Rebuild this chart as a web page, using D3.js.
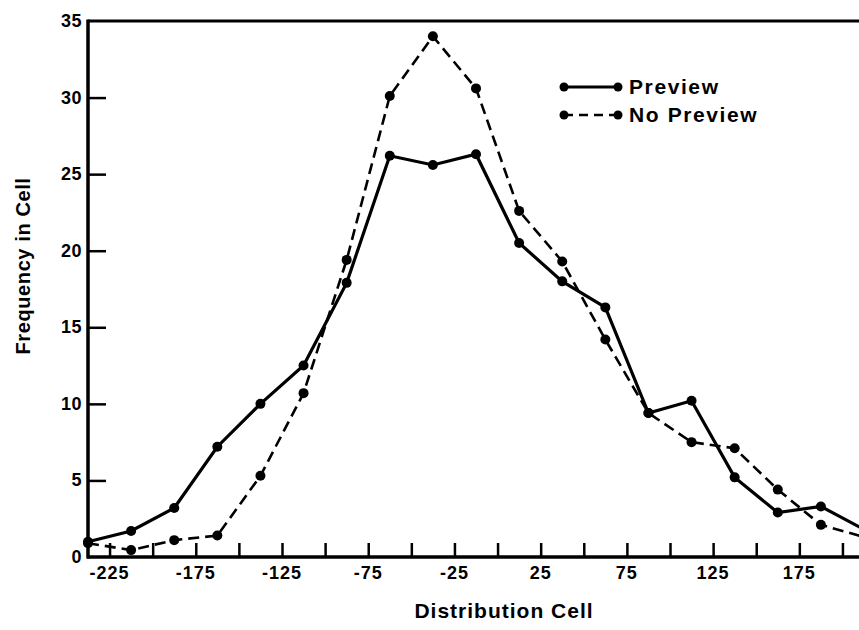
<!DOCTYPE html>
<html>
<head>
<meta charset="utf-8">
<script src="https://cdn.jsdelivr.net/npm/d3@7"></script>
<style>
html,body{margin:0;padding:0;background:#fff;}
svg{display:block;}
text{font-family:"Liberation Sans",Arial,sans-serif;font-weight:bold;fill:#000;}
</style>
</head>
<body>
<svg id="chart" width="859" height="630"></svg>
<script>
// Data
const cells = [-237.5,-212.5,-187.5,-162.5,-137.5,-112.5,-87.5,-62.5,-37.5,-12.5,12.5,37.5,62.5,87.5,112.5,137.5,162.5,187.5,212.5];
const preview = [1.0,1.7,3.2,7.2,10.0,12.5,17.9,26.2,25.6,26.3,20.5,18.0,16.3,9.4,10.2,5.2,2.9,3.3,1.8];
const noPreview = [0.9,0.45,1.1,1.4,5.3,10.7,19.4,30.1,34.0,30.6,22.6,19.3,14.2,9.4,7.5,7.1,4.4,2.1,1.3];
const xTickValues = [-225,-200,-175,-150,-125,-100,-75,-50,-25,0,25,50,75,100,125,150,175,200];
const xTickLabels = [-225,-175,-125,-75,-25,25,75,125,175];
const yTickValues = [5,10,15,20,25,30];
const yTickLabels = [0,5,10,15,20,25,30,35];
const seriesNames = ["Preview","No Preview"];

const svg = d3.select("#chart");
const x = d3.scaleLinear().domain([-237.5, 212.5]).range([88, 864]);
const y = d3.scaleLinear().domain([0, 35]).range([557, 21]);

// frame: top line
svg.append("line").attr("x1", x(-237.5)).attr("x2", 859).attr("y1", y(35)).attr("y2", y(35))
  .attr("stroke","#000").attr("stroke-width",3);

// x axis
const xAxis = d3.axisBottom(x).tickValues(xTickValues).tickSize(-14).tickFormat("");
const gx = svg.append("g").attr("transform", `translate(0,${y(0)})`).call(xAxis);
gx.select(".domain").remove();
gx.selectAll(".tick line").attr("stroke","#000").attr("stroke-width",2.5);
svg.append("line").attr("x1", x(-237.5)-1).attr("x2", 859).attr("y1", y(0)).attr("y2", y(0))
  .attr("stroke","#000").attr("stroke-width",3.5);
svg.append("g").selectAll("text").data(xTickLabels).join("text")
  .attr("x", d => x(d)).attr("y", y(0) + 22)
  .attr("text-anchor","middle").attr("font-size",18).attr("letter-spacing",1)
  .text(d => d);

// y axis
const yAxis = d3.axisLeft(y).tickValues(yTickValues).tickSize(-18).tickFormat("");
const gy = svg.append("g").attr("transform", `translate(${x(-237.5)},0)`).call(yAxis);
gy.select(".domain").remove();
gy.selectAll(".tick line").attr("stroke","#000").attr("stroke-width",2.5);
svg.append("line").attr("x1", x(-237.5)).attr("x2", x(-237.5)).attr("y1", y(35)-1.5).attr("y2", y(0)+1.5)
  .attr("stroke","#000").attr("stroke-width",3.5);
svg.append("g").selectAll("text").data(yTickLabels).join("text")
  .attr("x", 82).attr("y", d => y(d) + 6)
  .attr("text-anchor","end").attr("font-size",18).attr("letter-spacing",0.5)
  .text(d => d);

// axis titles
svg.append("text").attr("x", 504).attr("y", 618).attr("text-anchor","middle")
  .attr("font-size",21).attr("letter-spacing",1).text("Distribution Cell");
svg.append("text").attr("transform","translate(30,266) rotate(-90)").attr("text-anchor","middle")
  .attr("font-size",20).attr("letter-spacing",0.6).text("Frequency in Cell");

// series
const line = d3.line().x((d,i) => x(cells[i])).y(d => y(d));
const series = [
  {name: seriesNames[0], values: preview, dash: null, width: 3.2},
  {name: seriesNames[1], values: noPreview, dash: "11,6", width: 2.6}
];
series.forEach(s => {
  svg.append("path").datum(s.values).attr("d", line)
    .attr("fill","none").attr("stroke","#000").attr("stroke-width", s.width)
    .attr("stroke-dasharray", s.dash);
  svg.append("g").selectAll("circle").data(s.values).join("circle")
    .attr("cx",(d,i) => x(cells[i])).attr("cy", d => y(d)).attr("r",5).attr("fill","#000");
});

// legend
const leg = svg.append("g");
series.forEach((s,i) => {
  const ly = 87 + i*28;
  leg.append("line").attr("x1",564).attr("x2",618).attr("y1",ly).attr("y2",ly)
    .attr("stroke","#000").attr("stroke-width", s.width).attr("stroke-dasharray", s.dash ? "9,6" : null);
  leg.append("circle").attr("cx",564).attr("cy",ly).attr("r",4.5).attr("fill","#000");
  leg.append("circle").attr("cx",618).attr("cy",ly).attr("r",4.5).attr("fill","#000");
  leg.append("text").attr("x",629).attr("y",ly+7).attr("font-size",21).attr("letter-spacing",1.6)
    .text(s.name);
});
</script>
</body>
</html>
